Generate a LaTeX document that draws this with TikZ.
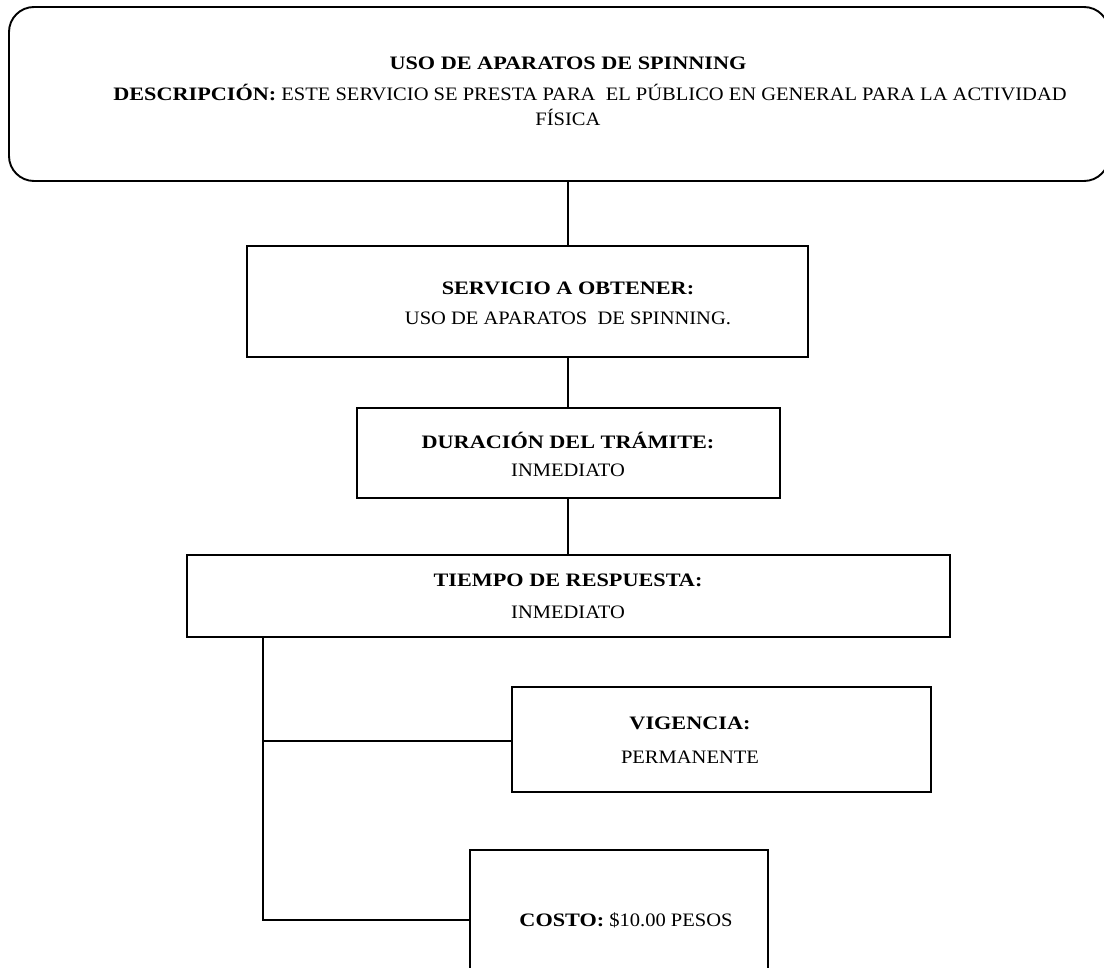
\documentclass[tikz,border=0pt]{standalone}
\usepackage{fontspec}
\setmainfont{Liberation Serif}[FakeStretch=1.08, BoldFeatures={FakeStretch=1.17}]
\begin{document}
\begin{tikzpicture}[x=1pt,y=-1pt,
  box/.style={draw, line width=1.9pt, rectangle, inner sep=0pt},
  conn/.style={draw, line width=1.6pt},
  txt/.style={font=\fontsize{19}{23}\selectfont, align=center, inner sep=0pt}]
\useasboundingbox (0,0) rectangle (1104,968);
% top rounded box
\node[box, rounded corners=25pt, minimum width=1100pt, minimum height=174pt] (top) at (559,94) {};
\node[txt] (toptext) at (568,91) {\textbf{USO DE APARATOS DE SPINNING}\\[8pt]
  \hspace*{44pt}\textbf{DESCRIPCIÓN:} ESTE SERVICIO SE PRESTA PARA\ \ EL PÚBLICO EN GENERAL PARA LA ACTIVIDAD\\[2pt]
  FÍSICA};
% servicio
\node[box, minimum width=561pt, minimum height=111pt] (serv) at (527.5,301.5) {};
\node[txt] (servtext) at (568,303) {\textbf{SERVICIO A OBTENER:}\\[7pt] USO DE APARATOS\ \ DE SPINNING.};
% duracion
\node[box, minimum width=423pt, minimum height=90pt] (dur) at (568.5,453) {};
\node[txt] (durtext) at (568,454) {\textbf{DURACIÓN DEL TRÁMITE:}\\[5pt] INMEDIATO};
% tiempo
\node[box, minimum width=763pt, minimum height=82pt] (tiem) at (568.5,596) {};
\node[txt] (tiemtext) at (568,596) {\textbf{TIEMPO DE RESPUESTA:}\\[9pt] INMEDIATO};
% vigencia
\node[box, minimum width=419pt, minimum height=105pt] (vig) at (721.5,739.5) {};
\node[txt] (vigtext) at (690,740) {\textbf{VIGENCIA:}\\[11pt] PERMANENTE};
% costo
\node[box, minimum width=298pt, minimum height=140pt, anchor=north] (cost) at (619,849) {};
\node[txt] (costtext) at (626,920) {\textbf{COSTO:} \$10.00 PESOS};
% connectors
\draw[conn] (top.south -| tiemtext) -- (serv.north -| tiemtext);
\draw[conn] (serv.south -| tiemtext) -- (dur.north -| tiemtext);
\draw[conn] (dur.south -| tiemtext) -- (tiem.north -| tiemtext);
\coordinate (bx) at (263,637);
\coordinate (bv) at (263,741);
\coordinate (bc) at (263,920);
\draw[conn] (tiem.south -| bx) -- (bc) -- (bc -| cost.west);
\draw[conn] (bv) -- (bv -| vig.west);
\end{tikzpicture}
\end{document}
